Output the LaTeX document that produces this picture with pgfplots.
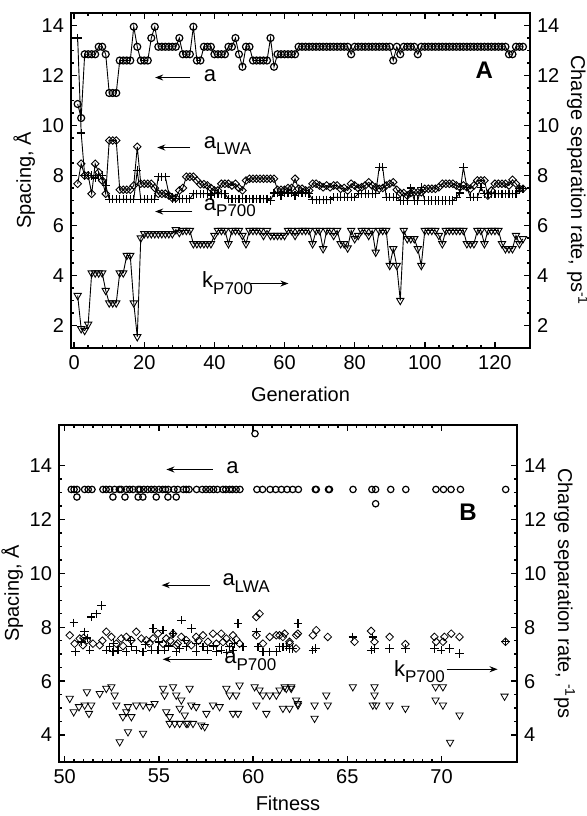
\documentclass[border=0pt]{standalone}
\usepackage{fontspec}
\setmainfont{Liberation Sans}
\usepackage{pgfplots}
\pgfplotsset{compat=1.18}
\usetikzlibrary{arrows.meta}

\newcommand{\sub}[1]{\raisebox{-0.55ex}{\fontsize{8.5}{9}\selectfont #1}}

\tikzset{ann/.style={-{Stealth[length=4pt, width=3pt]}, line width=0.6pt},
  lbl/.style={anchor=west, font=\fontsize{11}{12}\selectfont}}
\pgfplotsset{
  panel/.style={
    scale only axis,
    axis line style={line width=1.1pt},
    tick align=inside,
    xtick pos=both, ytick pos=both,
    major tick length=3pt, minor tick length=1.7pt,
    every tick/.style={black, line width=0.7pt},
    tick label style={font=\fontsize{10}{11}\selectfont},
    label style={font=\fontsize{10}{11}\selectfont},
    ylabel shift=-3.5pt, xlabel shift=2pt,
    /pgf/number format/assume math mode=true,
  },
  twin/.style={
    scale only axis,
    axis x line=none, axis y line*=right,
    axis line style={line width=1.1pt},
    ytick style={draw=none},
    tick label style={font=\fontsize{10}{11}\selectfont},
    label style={font=\fontsize{10}{11}\selectfont},
    ylabel style={rotate=180}, ylabel shift=-3pt,
    /pgf/number format/assume math mode=true,
  },
  dat/.style={black, line width=0.45pt, mark options={solid, line width=0.6pt}},
  pts/.style={black, only marks, mark options={solid, line width=0.6pt}},
}

\begin{document}
\begin{tikzpicture}
\useasboundingbox (0,0) rectangle (293.5pt,-408pt);

% ---------------- panel A
\begin{axis}[panel,
  at={(35.5pt,-174pt)}, anchor=south west,
  width=229.5pt, height=167.5pt,
  xmin=-0.9, xmax=130, ymin=1.1, ymax=14.5,
  xtick={0,20,...,120}, minor x tick num=4,
  ytick={2,4,...,14}, minor y tick num=3,
  xlabel={Generation}, ylabel={Spacing, Å},
]
% a
\addplot[dat, mark=o, mark size=1.75pt] coordinates {
(1,10.86) (2,10.3) (3,12.85) (4,12.85) (5,12.85) (6,12.85) (7,13.15) (8,13.15) (9,12.85) (10,11.3)
(11,11.3) (12,11.3) (13,12.6) (14,12.6) (15,12.6) (16,12.6) (17,13.95) (18,13.15) (19,12.6) (20,12.6)
(21,12.6) (22,13.5) (23,13.95) (24,13.15) (25,13.15) (26,13.15) (27,13.15) (28,13.15) (29,13.15) (30,13.5)
(31,12.85) (32,12.85) (33,12.85) (34,13.95) (35,12.6) (36,12.6) (37,13.15) (38,13.15) (39,13.15) (40,12.85)
(41,12.85) (42,12.85) (43,12.85) (44,13.15) (45,13.15) (46,13.5) (47,12.85) (48,12.35) (49,13.15) (50,13.15)
(51,12.6) (52,12.6) (53,12.6) (54,12.6) (55,12.6) (56,13.5) (57,12.35) (58,12.85) (59,12.85) (60,12.85)
(61,12.85) (62,12.85) (63,12.85) (64,13.15) (65,13.15) (66,13.15) (67,13.15) (68,13.15) (69,13.15) (70,13.15)
(71,13.15) (72,13.15) (73,13.15) (74,13.15) (75,13.15) (76,13.15) (77,13.15) (78,13.15) (79,12.85) (80,13.15)
(81,13.15) (82,13.15) (83,13.15) (84,13.15) (85,13.15) (86,13.15) (87,13.15) (88,13.15) (89,13.15) (90,13.15)
(91,12.6) (92,13.15) (93,12.85) (94,13.15) (95,13.15) (96,13.15) (97,13.15) (98,12.85) (99,13.15) (100,13.15)
(101,13.15) (102,13.15) (103,13.15) (104,13.15) (105,13.15) (106,13.15) (107,13.15) (108,13.15) (109,13.15) (110,13.15)
(111,13.15) (112,13.15) (113,13.15) (114,13.15) (115,13.15) (116,13.15) (117,13.15) (118,13.15) (119,13.15) (120,13.15)
(121,13.15) (122,13.15) (123,13.15) (124,12.85) (125,12.85) (126,13.15) (127,13.15) (128,13.15)
};
% a_LWA
\addplot[dat, mark=square, mark size=1.35pt, mark options={rotate=45}] coordinates {
(1,7.67) (2,8.47) (3,8.0) (4,8.0) (5,7.27) (6,8.47) (7,8.13) (8,7.8) (9,7.27) (10,9.4)
(11,9.4) (12,9.4) (13,7.43) (14,7.43) (15,7.43) (16,7.43) (17,7.6) (18,9.15) (19,7.67) (20,7.67)
(21,7.67) (22,7.67) (23,7.5) (24,7.27) (25,7.27) (26,7.27) (27,7.2) (28,7.1) (29,7.1) (30,7.4)
(31,7.5) (32,7.95) (33,7.95) (34,7.95) (35,7.8) (36,7.65) (37,7.65) (38,7.6) (39,7.5) (40,7.4)
(41,7.4) (42,7.67) (43,7.67) (44,7.67) (45,7.6) (46,7.67) (47,7.5) (48,7.4) (49,7.8) (50,7.87)
(51,7.87) (52,7.87) (53,7.87) (54,7.87) (55,7.87) (56,7.87) (57,7.87) (58,7.43) (59,7.43) (60,7.43)
(61,7.5) (62,7.5) (63,7.87) (64,7.47) (65,7.47) (66,7.4) (67,7.4) (68,7.67) (69,7.67) (70,7.6)
(71,7.53) (72,7.6) (73,7.53) (74,7.6) (75,7.6) (76,7.47) (77,7.5) (78,7.4) (79,7.67) (80,7.6)
(81,7.5) (82,7.53) (83,7.6) (84,7.73) (85,7.6) (86,7.53) (87,7.47) (88,7.5) (89,7.6) (90,7.67)
(91,7.73) (92,7.43) (93,7.3) (94,7.3) (95,7.2) (96,7.3) (97,7.33) (98,7.33) (99,7.33) (100,7.47)
(101,7.47) (102,7.47) (103,7.47) (104,7.53) (105,7.67) (106,7.67) (107,7.67) (108,7.67) (109,7.6) (110,7.53)
(111,7.6) (112,7.53) (113,7.47) (114,7.6) (115,7.8) (116,7.8) (117,7.8) (118,7.2) (119,7.4) (120,7.67)
(121,7.67) (122,7.67) (123,7.67) (124,7.6) (125,7.83) (126,7.67) (127,7.47) (128,7.47)
};
% a_P700
\addplot[dat, mark=+, mark size=2.1pt] coordinates {
(1,13.5) (2,9.7) (3,8.0) (4,8.0) (5,8.0) (6,7.9) (7,8.0) (8,8.0) (9,7.6) (10,7.05)
(11,7.05) (12,7.05) (13,7.05) (14,7.05) (15,7.05) (16,7.05) (17,7.05) (18,8.2) (19,7.05) (20,7.05)
(21,7.05) (22,7.05) (23,7.05) (24,7.95) (25,7.95) (26,7.95) (27,7.27) (28,7.07) (29,7.07) (30,7.07)
(31,7.07) (32,7.07) (33,7.07) (34,7.27) (35,7.27) (36,7.27) (37,7.27) (38,7.27) (39,7.2) (40,7.27)
(41,7.27) (42,7.27) (43,7.27) (44,7.07) (45,7.07) (46,7.07) (47,7.07) (48,7.07) (49,7.07) (50,7.07)
(51,7.07) (52,7.07) (53,7.07) (54,7.07) (55,7.07) (56,7.0) (57,7.3) (58,7.3) (59,7.2) (60,7.3)
(61,7.3) (62,7.3) (63,7.2) (64,7.3) (65,7.3) (66,7.3) (67,7.27) (68,7.03) (69,7.03) (70,7.03)
(71,7.03) (72,7.03) (73,7.03) (74,7.13) (75,7.13) (76,7.13) (77,7.13) (78,7.13) (79,7.13) (80,7.13)
(81,7.27) (82,7.27) (83,7.27) (84,7.27) (85,7.27) (86,7.27) (87,8.33) (88,8.33) (89,7.13) (90,7.13)
(91,7.13) (92,7.13) (93,7.0) (94,7.0) (95,7.0) (96,7.5) (97,7.0) (98,7.0) (99,7.53) (100,7.0)
(101,7.0) (102,7.0) (103,7.0) (104,7.0) (105,7.0) (106,7.0) (107,7.0) (108,7.0) (109,7.13) (110,7.3)
(111,8.33) (112,7.53) (113,7.13) (114,7.13) (115,7.13) (116,7.53) (117,7.27) (118,7.27) (119,7.27) (120,7.27)
(121,7.27) (122,7.27) (123,7.27) (124,7.27) (125,7.27) (126,7.27) (127,7.47) (128,7.47)
};
% k_P700
\addplot[dat, mark=triangle, mark size=2.1pt, mark options={rotate=180}] coordinates {
(1,3.2) (2,1.87) (3,1.8) (4,2.05) (5,4.1) (6,4.1) (7,4.1) (8,4.1) (9,3.4) (10,2.9)
(11,2.9) (12,2.9) (13,4.1) (14,4.1) (15,4.8) (16,4.8) (17,2.9) (18,1.55) (19,5.5) (20,5.67)
(21,5.67) (22,5.67) (23,5.67) (24,5.67) (25,5.67) (26,5.67) (27,5.67) (28,5.67) (29,5.83) (30,5.72)
(31,5.8) (32,5.8) (33,5.8) (34,5.27) (35,5.27) (36,5.27) (37,5.27) (38,5.27) (39,5.27) (40,5.6)
(41,5.8) (42,5.8) (43,5.8) (44,5.27) (45,5.8) (46,5.8) (47,5.8) (48,5.6) (49,5.27) (50,5.8)
(51,5.8) (52,5.8) (53,5.8) (54,5.6) (55,5.8) (56,5.6) (57,5.6) (58,5.6) (59,5.6) (60,5.6)
(61,5.8) (62,5.8) (63,5.6) (64,5.8) (65,5.8) (66,5.8) (67,5.8) (68,5.27) (69,5.8) (70,5.8)
(71,5.07) (72,5.8) (73,5.8) (74,5.6) (75,5.8) (76,5.27) (77,5.27) (78,5.1) (79,5.8) (80,5.47)
(81,5.6) (82,5.8) (83,5.8) (84,5.6) (85,5.8) (86,4.93) (87,5.8) (88,5.8) (89,5.8) (90,4.4)
(91,5.07) (92,4.4) (93,3.0) (94,5.8) (95,5.47) (96,5.47) (97,5.47) (98,5.07) (99,4.4) (100,5.8)
(101,5.8) (102,5.8) (103,5.8) (104,5.6) (105,5.27) (106,5.8) (107,5.8) (108,5.8) (109,5.8) (110,5.8)
(111,5.8) (112,5.27) (113,5.27) (114,5.27) (115,5.8) (116,5.8) (117,5.27) (118,5.8) (119,5.8) (120,5.8)
(121,5.8) (122,5.27) (123,5.07) (124,5.07) (125,5.07) (126,5.6) (127,5.27) (128,5.47)
};
\draw[ann] (axis cs:33.1,11.92) -- (axis cs:23.1,11.92);
\node[lbl] at (axis cs:35,11.98) {a};
\draw[ann] (axis cs:33.1,9.12) -- (axis cs:23.7,9.12);
\node[lbl] at (axis cs:35,9.2) {a\sub{LWA}};
\draw[ann] (axis cs:33.7,6.56) -- (axis cs:23.1,6.56);
\node[lbl] at (axis cs:35,6.72) {a\sub{P700}};
\node[lbl] at (axis cs:34.5,3.7) {k\sub{P700}};
\draw[ann] (axis cs:50.3,3.68) -- (axis cs:61.1,3.68);
\node[font=\bfseries\fontsize{12}{13}\selectfont] at (axis cs:117,12.2) {A};
\end{axis}
\begin{axis}[twin,
  at={(35.5pt,-174pt)}, anchor=south west,
  width=229.5pt, height=167.5pt,
  xmin=-0.9, xmax=130, ymin=1.1, ymax=14.5,
  ytick={2,4,...,14},
  ylabel={Charge separation rate, ps\textsuperscript{-1}},
]
\end{axis}

% ---------------- panel B
\begin{axis}[panel,
  at={(29.5pt,-381pt)}, anchor=south west,
  width=229pt, height=168.5pt,
  xmin=49.7, xmax=74, ymin=3, ymax=15.5,
  xtick={50,55,...,70}, minor x tick num=9,
  ytick={4,6,...,14}, minor y tick num=3,
  xlabel={Fitness}, ylabel={Spacing, Å}, xlabel shift=-0.5pt,
]
% a
\addplot[pts, mark=o, mark size=1.6pt] coordinates {
(50.35,13.11) (50.5,13.11) (50.65,13.11) (51.06,13.11) (51.25,13.11) (51.45,13.11) (52.03,13.11) (52.2,13.11)
(52.39,13.11) (52.65,13.11) (52.9,13.11) (53.0,13.11) (53.27,13.11) (53.45,13.11) (53.63,13.11) (53.9,13.11)
(54.0,13.11) (54.2,13.11) (54.4,13.11) (54.6,13.11) (54.77,13.11) (55.0,13.11) (55.2,13.11) (55.35,13.11)
(55.5,13.11) (55.8,13.11) (56.0,13.11) (56.3,13.11) (56.45,13.11) (56.6,13.11) (57.0,13.11) (57.3,13.11)
(57.5,13.11) (57.7,13.11) (57.9,13.11) (58.1,13.11) (58.4,13.11) (58.55,13.11) (58.75,13.11) (58.9,13.11)
(59.1,13.11) (59.3,13.11) (60.2,13.11) (60.5,13.11) (60.9,13.11) (61.2,13.11) (61.5,13.11) (61.8,13.11)
(62.1,13.11) (62.4,13.11) (63.3,13.11) (63.35,13.11) (64.0,13.11) (64.05,13.11) (65.3,13.11) (66.3,13.11)
(66.5,13.11) (67.3,13.11) (68.1,13.11) (69.7,13.11) (70.1,13.11) (70.5,13.11) (71.0,13.11) (73.4,13.11)
(50.65,12.83) (52.56,12.83) (53.2,12.83) (53.9,12.83) (54.15,12.83) (54.86,12.83) (55.48,12.83) (55.92,12.83)
(60.1,15.18) (66.5,12.58)
};
% a_LWA
\addplot[pts, mark=square, mark size=1.35pt, mark options={rotate=45}] coordinates {
(50.27,7.7) (50.53,7.39) (50.8,7.58) (50.97,7.33) (51.18,7.52) (51.5,7.39) (51.86,7.33) (52.21,7.83)
(52.48,7.64) (52.74,7.39) (53.0,7.58) (53.27,7.64) (53.54,7.52) (53.8,7.83) (54.07,7.58) (54.33,7.52)
(54.69,7.58) (54.95,7.76) (55.22,7.39) (55.39,7.58) (55.75,7.76) (55.92,7.33) (56.19,7.64) (56.45,7.52)
(56.72,7.33) (56.98,7.64) (57.34,7.7) (57.6,7.46) (57.87,7.76) (58.05,7.39) (58.31,7.76) (58.58,7.58)
(58.75,7.39) (58.93,7.7) (59.28,7.39) (60.17,8.38) (60.34,8.5) (60.17,7.7) (60.52,7.39) (60.88,7.64)
(61.23,7.7) (61.58,7.64) (61.94,7.39) (62.29,7.7) (61.4,7.7) (61.67,7.76) (61.93,7.46) (62.28,7.21)
(62.37,7.76) (63.17,7.7) (63.35,7.89) (63.96,7.64) (65.38,7.46) (66.26,7.86) (66.44,7.46) (67.24,7.64)
(68.08,7.37) (69.62,7.64) (69.71,7.46) (70.07,7.46) (70.15,7.64) (70.51,7.76) (70.95,7.64) (73.39,7.46)
(51.0,7.6) (52.0,7.5) (53.1,7.3) (54.5,7.4) (55.6,7.5) (56.0,7.4) (57.1,7.5) (58.4,7.45) (59.1,7.55)
};
% a_P700
\addplot[pts, mark=+, mark size=2.1pt] coordinates {
(50.48,8.16) (50.58,7.09) (51.06,7.83) (51.33,7.15) (51.41,8.38) (51.68,8.5) (51.95,8.81) (52.21,7.15)
(52.39,7.27) (52.56,7.09) (52.83,7.15) (53.27,7.09) (53.54,7.27) (53.8,7.15) (54.16,7.09) (54.6,7.15)
(54.69,7.95) (54.95,7.15) (55.22,7.89) (55.3,7.15) (55.75,7.76) (55.92,7.09) (56.19,8.26) (56.37,7.52)
(56.45,7.27) (56.72,7.95) (56.98,7.09) (57.34,7.27) (57.6,7.15) (58.05,7.09) (58.31,7.15) (58.75,7.27)
(58.93,7.15) (59.2,8.14) (59.46,7.27) (60.17,7.83) (60.26,7.27) (60.52,7.09) (60.88,7.09) (61.23,7.09)
(61.58,7.27) (61.94,7.21) (62.38,8.14) (61.4,7.27) (61.75,7.27) (62.11,7.21) (62.37,8.14) (63.17,7.15)
(63.31,7.21) (65.29,7.64) (66.35,7.64) (66.26,7.15) (66.44,7.21) (67.24,7.21) (68.08,7.21) (69.62,7.21)
(69.98,7.15) (70.42,7.21) (70.95,7.03) (73.39,7.46)
(50.9,7.45) (51.2,7.6) (52.6,7.4) (53.5,7.5) (54.3,7.35) (55.0,7.45) (55.5,7.3) (56.1,7.2) (57.0,7.4)
(57.9,7.3) (58.6,7.05) (59.0,7.4)
};
% k_P700
\addplot[pts, mark=triangle, mark size=2.1pt, mark options={rotate=180}] coordinates {
(50.27,5.36) (50.48,4.86) (50.76,5.05) (51.06,5.11) (51.18,5.6) (51.29,4.8) (51.41,5.11) (51.86,5.54)
(52.21,5.73) (52.48,5.79) (52.65,5.48) (52.74,5.11) (53.09,4.68) (53.27,4.86) (53.36,5.05) (53.54,4.68)
(52.92,3.75) (53.36,4.12) (53.8,5.11) (54.16,5.11) (54.16,4.06) (54.5,5.05) (54.77,5.17) (55.22,5.73)
(55.3,5.48) (55.39,4.86) (55.57,4.68) (55.75,5.79) (55.92,5.48) (56.1,4.99) (56.19,5.3) (56.37,4.74)
(56.54,4.43) (56.63,5.73) (56.72,5.11) (56.98,5.05) (55.57,4.43) (55.84,4.43) (56.1,4.43) (56.45,4.43)
(56.81,4.43) (57.25,4.37) (57.43,4.31) (57.52,4.8) (57.87,5.11) (58.22,5.05) (58.58,5.73) (58.75,5.48)
(58.93,4.8) (59.2,4.8) (59.1,5.48) (59.28,5.85) (60.08,5.79) (60.17,5.11) (60.34,5.67) (60.52,5.48)
(60.7,4.8) (60.88,5.48) (61.23,5.48) (61.58,4.99) (61.76,5.73) (62.02,5.73) (62.38,5.11) (61.4,5.67)
(61.67,5.79) (62.02,5.79) (61.93,4.99) (62.28,5.3) (62.37,5.17) (63.26,5.11) (63.26,4.62) (63.88,5.48)
(63.96,5.11) (65.29,5.79) (66.44,5.79) (66.44,5.48) (66.35,5.11) (66.53,5.11) (67.24,5.11) (68.08,4.99)
(69.68,5.79) (70.07,5.79) (69.68,5.3) (70.07,5.11) (70.95,4.74) (70.45,3.73) (73.34,5.44)
};
\draw[ann] (axis cs:57.85,13.85) -- (axis cs:55.4,13.85);
\node[lbl] at (axis cs:58.2,13.9) {a};
\draw[ann] (axis cs:57.7,9.56) -- (axis cs:55.15,9.56);
\node[lbl] at (axis cs:58.0,9.64) {a\sub{LWA}};
\draw[ann] (axis cs:57.8,6.81) -- (axis cs:55.2,6.81);
\node[lbl] at (axis cs:58.1,6.74) {a\sub{P700}};
\node[lbl] at (axis cs:67.1,6.35) {k\sub{P700}};
\draw[ann] (axis cs:70.26,6.44) -- (axis cs:72.97,6.44);
\node[font=\bfseries\fontsize{12}{13}\selectfont] at (axis cs:71.4,12.26) {B};
\end{axis}
\begin{axis}[twin,
  at={(29.5pt,-381pt)}, anchor=south west,
  width=229pt, height=168.5pt,
  xmin=49.7, xmax=74, ymin=3, ymax=15.5,
  ytick={4,6,...,14},
  ylabel={Charge separation rate, \textsuperscript{-1}ps},
]
\end{axis}
\end{tikzpicture}
\end{document}
